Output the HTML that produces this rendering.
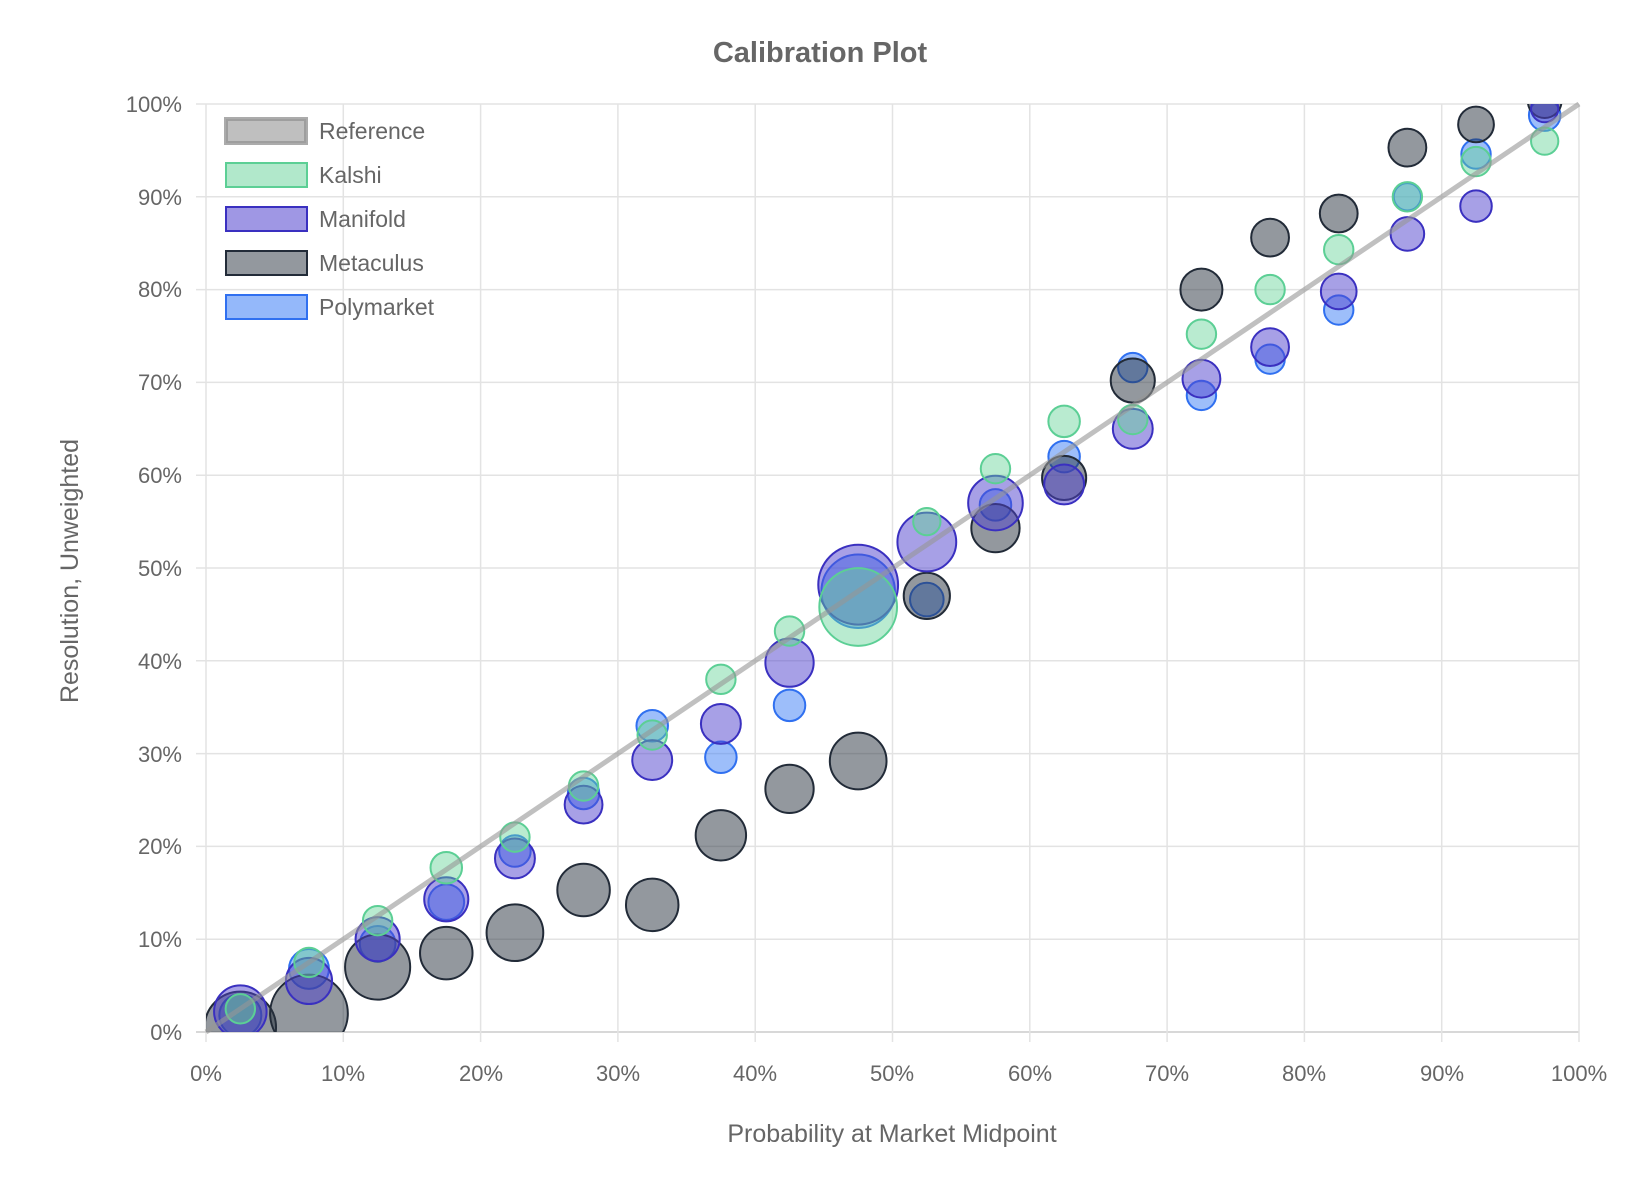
<!DOCTYPE html>
<html><head><meta charset="utf-8"><style>
html,body{margin:0;padding:0;background:#fff;}
svg{display:block;font-family:"Liberation Sans",sans-serif;}
</style></head><body>
<svg id="s" width="1640" height="1204" viewBox="0 0 1640 1204">
<defs><clipPath id="cp"><rect x="206" y="104" width="1373" height="928"/></clipPath></defs>
<text x="820" y="62" text-anchor="middle" font-size="29" font-weight="bold" fill="#666">Calibration Plot</text>
<g id="grid" stroke="#e3e3e3" stroke-width="1.5"></g>
<g id="pts" clip-path="url(#cp)"></g>
<line x1="206" y1="1032" x2="1579" y2="104" stroke="rgba(150,150,150,0.6)" stroke-width="5"/>
<g font-size="22" fill="#666" text-anchor="end">
<text x="182" y="1040">0%</text><text x="182" y="947">10%</text><text x="182" y="854">20%</text><text x="182" y="762">30%</text><text x="182" y="669">40%</text><text x="182" y="576">50%</text><text x="182" y="483">60%</text><text x="182" y="390">70%</text><text x="182" y="297">80%</text><text x="182" y="205">90%</text><text x="182" y="112">100%</text>
</g>
<g font-size="22" fill="#666" text-anchor="middle">
<text x="206" y="1081">0%</text><text x="343" y="1081">10%</text><text x="481" y="1081">20%</text><text x="618" y="1081">30%</text><text x="755" y="1081">40%</text><text x="892" y="1081">50%</text><text x="1030" y="1081">60%</text><text x="1167" y="1081">70%</text><text x="1304" y="1081">80%</text><text x="1442" y="1081">90%</text><text x="1579" y="1081">100%</text>
</g>
<text x="892" y="1142" text-anchor="middle" font-size="25" fill="#666">Probability at Market Midpoint</text>
<text transform="translate(78,571) rotate(-90)" text-anchor="middle" font-size="25" fill="#666">Resolution, Unweighted</text>
<g font-size="23" fill="#666">
<rect x="226" y="119" width="80" height="24" fill="rgba(170,170,170,0.75)" stroke="rgba(150,150,150,0.8)" stroke-width="4"/>
<text x="319" y="139">Reference</text>
<rect x="226" y="163" width="81" height="24" fill="rgba(99,210,151,0.5)" stroke="#5ccf95" stroke-width="2"/>
<text x="319" y="183">Kalshi</text>
<rect x="226" y="207" width="81" height="24" fill="rgba(80,65,205,0.55)" stroke="#3a30c0" stroke-width="2"/>
<text x="319" y="227">Manifold</text>
<rect x="226" y="251" width="81" height="24" fill="rgba(40,50,62,0.5)" stroke="#222b38" stroke-width="2"/>
<text x="319" y="271">Metaculus</text>
<rect x="226" y="295" width="81" height="24" fill="rgba(60,125,245,0.55)" stroke="#3070f0" stroke-width="2"/>
<text x="319" y="315">Polymarket</text>
</g>
</svg>
<script>
(function(){
var NS="http://www.w3.org/2000/svg";
var X=function(p){return 206+p*13.73;},Y=function(p){return 1032-p*9.28;};
var g=document.getElementById('grid');
for(var i=0;i<=10;i++){
 var l=document.createElementNS(NS,'line');l.setAttribute('x1',X(i*10));l.setAttribute('x2',X(i*10));l.setAttribute('y1',104);l.setAttribute('y2',1042);g.appendChild(l);
 var h=document.createElementNS(NS,'line');h.setAttribute('x1',196);h.setAttribute('x2',1579);h.setAttribute('y1',Y(i*10));h.setAttribute('y2',Y(i*10));if(i==0)h.setAttribute('stroke','#ccc');g.appendChild(h);
}
var xs=[2.5,7.5,12.5,17.5,22.5,27.5,32.5,37.5,42.5,47.5,52.5,57.5,62.5,67.5,72.5,77.5,82.5,87.5,92.5,97.5];
var poly=[[1.8,20],[6.8,19],[9.5,17],[14,17],[19.5,15],[25.7,15],[33,15],[29.6,15],[35.2,15],[47.5,35],[46.6,16],[56.8,15],[62,15],[71.6,14],[68.6,14],[72.5,14],[77.8,14],[90,13],[94.6,14],[98.8,15]];
var meta=[[0.5,34],[2,37],[7,31],[8.5,25],[10.7,27],[15.3,25],[13.7,25],[21.2,24],[26.2,23],[29.2,27],[47,22],[54.3,23],[59.7,21],[70.2,21],[80,20],[85.6,18],[88.2,18],[95.3,18],[97.8,17],[100.3,16]];
var mani=[[2.2,25],[5.5,22],[10,21],[14.3,21],[18.7,19],[24.5,18],[29.3,19],[33.2,19],[39.8,23],[48.2,38],[52.8,28],[57,26],[59,19],[65,19],[70.4,18],[73.8,18],[79.8,17],[86,16],[89,15],[99.5,13]];
var kal=[[2.5,14],[7.5,14],[12,14],[17.7,15],[21,14],[26.5,14],[32,14],[38,14],[43.2,14],[45.8,37],[55,13],[60.7,14],[65.8,15],[66,14],[75.2,14],[80,14],[84.3,14],[90,14],[93.8,14],[96,13]];
var sets=[[poly,'rgba(60,125,245,0.5)','#3070f0'],[meta,'rgba(40,50,62,0.5)','#222b38'],[mani,'rgba(80,65,205,0.5)','#3a30c0'],[kal,'rgba(99,210,151,0.45)','#5ccf95']];
var pg=document.getElementById('pts');
sets.forEach(function(s){s[0].forEach(function(d,i){
 var c=document.createElementNS(NS,'circle');c.setAttribute('cx',X(xs[i]));c.setAttribute('cy',Y(d[0]));c.setAttribute('r',d[1]*1.05);
 c.setAttribute('fill',s[1]);c.setAttribute('stroke',s[2]);c.setAttribute('stroke-width',2);pg.appendChild(c);});});
})();
</script>
</body></html>
